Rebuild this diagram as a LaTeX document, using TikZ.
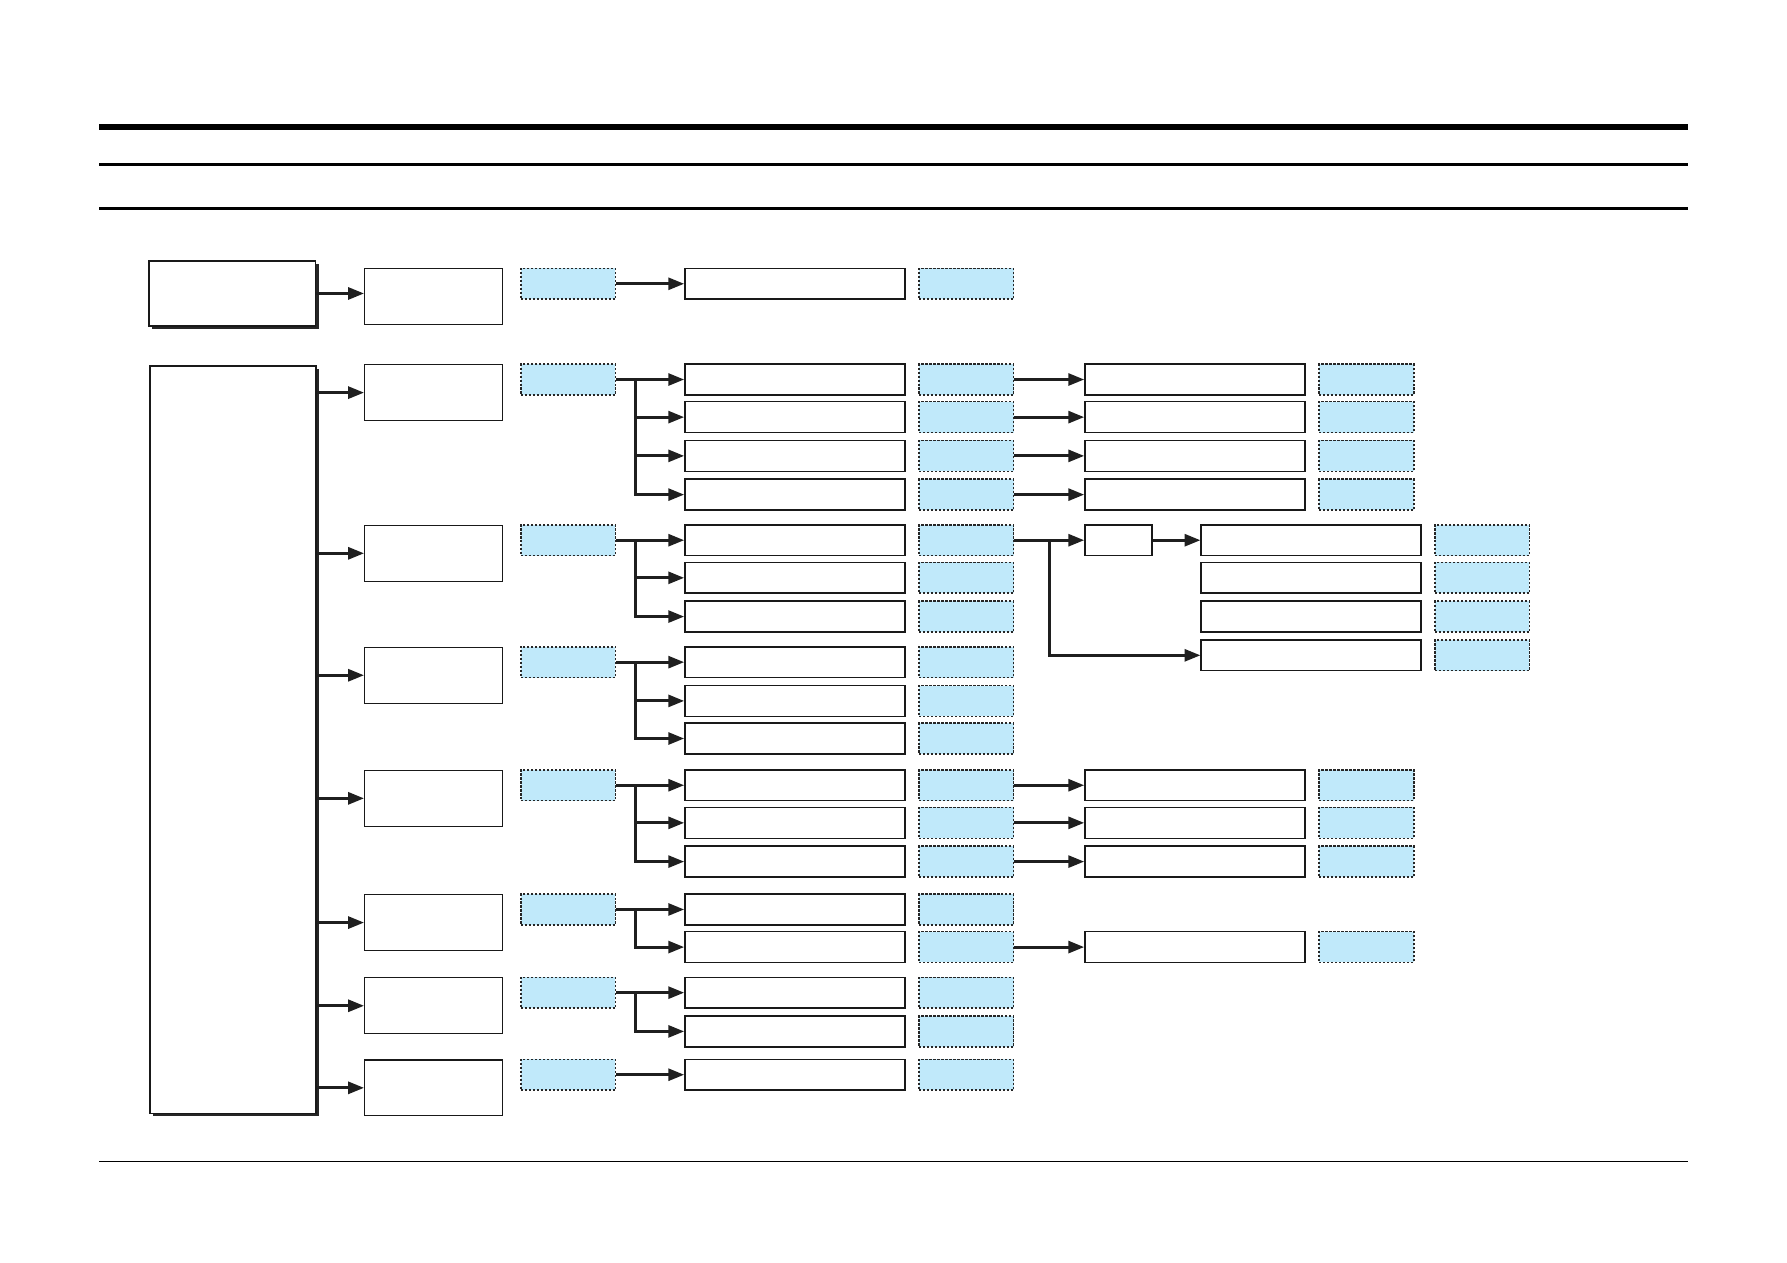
\documentclass[tikz,border=0pt]{standalone}
\usepackage{tikz}
\usetikzlibrary{arrows.meta,shadows}
\definecolor{paleblue}{RGB}{192,233,250}
\tikzset{
  wbox/.style={draw=black!90, line width=1.3bp, fill=white, inner sep=0pt, minimum height=27bp},
  bbox/.style={draw=black!85, dash pattern=on 2bp off 1.5bp, line width=1.3bp, fill=paleblue, inner sep=0pt, minimum width=83bp, minimum height=27bp},
  headbox/.style={draw=black!90, line width=1.1bp, fill=white, inner sep=0pt, minimum width=121bp, minimum height=49bp},
  sbox/.style={draw=black!90, line width=1.4bp, fill=white, inner sep=0pt, minimum width=146bp,
    drop shadow={shadow xshift=2.5bp, shadow yshift=-2.5bp, opacity=1, fill=black!85}},
  link/.style={line width=2.6bp, draw=black!88, -{Triangle[length=14bp,width=10.5bp]}},
}
\begin{document}
\begin{tikzpicture}[x=1bp,y=-1bp]
\useasboundingbox (0,0) rectangle (1568,1108);
% rules
\draw[line width=5.3bp] (87,111.5) -- (1481,111.5);
\draw[line width=2.6bp] (87,144) -- (1481,144);
\draw[line width=2.8bp] (87,182.7) -- (1481,182.7);
\draw[line width=1bp] (87,1019) -- (1481,1019);
% top group
\node[sbox, minimum height=57bp] (top) at (204,257.5) {};
\node[headbox] (topm) at (380.5,260) {};
\node[bbox] (topc) at (498.5,249) {};
\node[wbox, minimum width=193bp] (topw) at (697.5,249) {};
\node[bbox] (topb) at (848,249) {};
\draw[link] (top.east) -- (top.east -| topm.west);
\draw[link] (topc) -- (topw);
% main group
\node[sbox, minimum height=656bp] (main) at (204.5,649) {};
\foreach \g/\y in {1/333,2/474,3/581,4/689,5/798,6/871,7/943}{
  \node[headbox] (m\g) at (380.5,\y+11.5) {};
  \node[bbox] (c\g) at (498.5,\y) {};
  \draw[link] (main.east |- m\g.west) -- (m\g.west);
}
\foreach \g/\r/\y in {1/1/333,1/2/366,1/3/400,1/4/434,2/1/474,2/2/507,2/3/541,
    3/1/581,3/2/615,3/3/648,4/1/689,4/2/722,4/3/756,5/1/798,5/2/831,6/1/871,6/2/905,7/1/943}{
  \node[wbox, minimum width=193bp] (w\g\r) at (697.5,\y) {};
  \node[bbox] (b\g\r) at (848,\y) {};
}
\foreach \g in {1,...,7}
  \draw[link] (c\g) -- (w\g1);
\foreach \g/\r in {1/2,1/3,1/4,2/2,2/3,3/2,3/3,4/2,4/3,5/2,6/2}
  \draw[link] ([xshift=17bp]c\g.east) |- (w\g\r.west);
% third column
\foreach \g/\r/\y in {1/1/333,1/2/366,1/3/400,1/4/434,4/1/689,4/2/722,4/3/756,5/2/831}{
  \node[wbox, minimum width=193bp] (v\g\r) at (1048.5,\y) {};
  \node[bbox] (d\g\r) at (1199,\y) {};
  \draw[link] (b\g\r) -- (v\g\r);
}
% branch off b21
\node[wbox, minimum width=59bp] (s21) at (981.5,474) {};
\foreach \r/\y in {1/474,2/507,3/541,4/575}{
  \node[wbox, minimum width=193bp] (x\r) at (1150.5,\y) {};
  \node[bbox] (e\r) at (1300.5,\y) {};
}
\draw[link] (b21) -- (s21);
\draw[link] (s21) -- (x1);
\draw[link] ([xshift=31bp]b21.east) |- (x4.west);
\end{tikzpicture}
\end{document}
